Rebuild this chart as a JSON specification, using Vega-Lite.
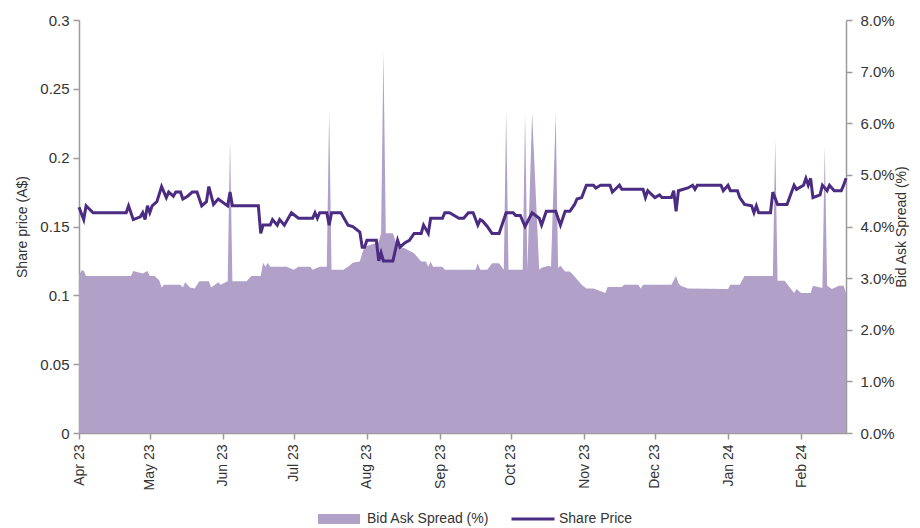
{
  "$schema": "https://vega.github.io/schema/vega-lite/v6.json",
  "width": 767,
  "height": 413,
  "autosize": {"type": "none"},
  "padding": {"left": 79, "top": 20, "right": 74, "bottom": 95},
  "config": {
    "view": {"stroke": null},
    "font": "Liberation Sans",
    "axis": {
      "grid": false,
      "domainColor": "#9b9b9b",
      "domainWidth": 1.5,
      "tickColor": "#9b9b9b",
      "tickWidth": 1.5,
      "tickSize": 6,
      "labelColor": "#333333",
      "titleColor": "#333333",
      "labelFont": "Liberation Sans",
      "titleFont": "Liberation Sans",
      "labelFontSize": 15,
      "titleFontSize": 14,
      "titleFontWeight": "normal"
    },
    "legend": {
      "labelFont": "Liberation Sans",
      "labelFontSize": 14,
      "labelColor": "#333333",
      "padding": 0
    }
  },
  "datasets": {
    "spread": [
      {"date": "2023-04-01", "spread": 3.05},
      {"date": "2023-04-02", "spread": 3.15},
      {"date": "2023-04-03", "spread": 3.15},
      {"date": "2023-04-04", "spread": 3.04},
      {"date": "2023-04-23", "spread": 3.04},
      {"date": "2023-04-24", "spread": 3.14},
      {"date": "2023-04-28", "spread": 3.09},
      {"date": "2023-04-30", "spread": 3.14},
      {"date": "2023-05-01", "spread": 3.04},
      {"date": "2023-05-03", "spread": 3.04},
      {"date": "2023-05-05", "spread": 2.96},
      {"date": "2023-05-06", "spread": 2.82},
      {"date": "2023-05-07", "spread": 2.87},
      {"date": "2023-05-14", "spread": 2.87},
      {"date": "2023-05-15", "spread": 2.82},
      {"date": "2023-05-16", "spread": 2.92},
      {"date": "2023-05-18", "spread": 2.82},
      {"date": "2023-05-20", "spread": 2.80},
      {"date": "2023-05-22", "spread": 2.94},
      {"date": "2023-05-26", "spread": 2.94},
      {"date": "2023-05-27", "spread": 2.82},
      {"date": "2023-05-30", "spread": 2.92},
      {"date": "2023-05-31", "spread": 2.87},
      {"date": "2023-06-03", "spread": 2.94},
      {"date": "2023-06-04", "spread": 5.68},
      {"date": "2023-06-05", "spread": 2.94},
      {"date": "2023-06-11", "spread": 2.94},
      {"date": "2023-06-13", "spread": 3.04},
      {"date": "2023-06-17", "spread": 3.04},
      {"date": "2023-06-18", "spread": 3.30},
      {"date": "2023-06-19", "spread": 3.22},
      {"date": "2023-06-20", "spread": 3.30},
      {"date": "2023-06-21", "spread": 3.22},
      {"date": "2023-06-28", "spread": 3.22},
      {"date": "2023-07-01", "spread": 3.16},
      {"date": "2023-07-03", "spread": 3.22},
      {"date": "2023-07-08", "spread": 3.22},
      {"date": "2023-07-09", "spread": 3.16},
      {"date": "2023-07-12", "spread": 3.22},
      {"date": "2023-07-15", "spread": 3.22},
      {"date": "2023-07-16", "spread": 6.24},
      {"date": "2023-07-17", "spread": 3.16},
      {"date": "2023-07-22", "spread": 3.16},
      {"date": "2023-07-24", "spread": 3.22},
      {"date": "2023-07-26", "spread": 3.30},
      {"date": "2023-07-29", "spread": 3.32},
      {"date": "2023-07-30", "spread": 3.48},
      {"date": "2023-07-31", "spread": 3.61},
      {"date": "2023-08-03", "spread": 3.65},
      {"date": "2023-08-06", "spread": 3.70},
      {"date": "2023-08-07", "spread": 3.87},
      {"date": "2023-08-08", "spread": 7.39},
      {"date": "2023-08-09", "spread": 3.87},
      {"date": "2023-08-12", "spread": 3.87},
      {"date": "2023-08-14", "spread": 3.61},
      {"date": "2023-08-17", "spread": 3.58},
      {"date": "2023-08-21", "spread": 3.48},
      {"date": "2023-08-24", "spread": 3.32},
      {"date": "2023-08-26", "spread": 3.32},
      {"date": "2023-08-27", "spread": 3.22},
      {"date": "2023-08-28", "spread": 3.32},
      {"date": "2023-08-29", "spread": 3.22},
      {"date": "2023-09-02", "spread": 3.22},
      {"date": "2023-09-03", "spread": 3.16},
      {"date": "2023-09-16", "spread": 3.16},
      {"date": "2023-09-17", "spread": 3.29},
      {"date": "2023-09-18", "spread": 3.16},
      {"date": "2023-09-21", "spread": 3.16},
      {"date": "2023-09-23", "spread": 3.29},
      {"date": "2023-09-26", "spread": 3.29},
      {"date": "2023-09-28", "spread": 3.16},
      {"date": "2023-09-29", "spread": 6.24},
      {"date": "2023-09-30", "spread": 3.16},
      {"date": "2023-10-06", "spread": 3.16},
      {"date": "2023-10-07", "spread": 6.20},
      {"date": "2023-10-08", "spread": 3.16},
      {"date": "2023-10-10", "spread": 6.20},
      {"date": "2023-10-13", "spread": 3.16},
      {"date": "2023-10-14", "spread": 3.20},
      {"date": "2023-10-17", "spread": 3.24},
      {"date": "2023-10-18", "spread": 3.22},
      {"date": "2023-10-20", "spread": 6.20},
      {"date": "2023-10-21", "spread": 3.20},
      {"date": "2023-10-22", "spread": 3.24},
      {"date": "2023-10-24", "spread": 3.13},
      {"date": "2023-10-26", "spread": 3.13},
      {"date": "2023-10-28", "spread": 3.03},
      {"date": "2023-10-31", "spread": 2.87},
      {"date": "2023-11-02", "spread": 2.80},
      {"date": "2023-11-05", "spread": 2.80},
      {"date": "2023-11-10", "spread": 2.71},
      {"date": "2023-11-11", "spread": 2.83},
      {"date": "2023-11-17", "spread": 2.83},
      {"date": "2023-11-18", "spread": 2.87},
      {"date": "2023-11-24", "spread": 2.87},
      {"date": "2023-11-25", "spread": 2.80},
      {"date": "2023-11-26", "spread": 2.87},
      {"date": "2023-12-08", "spread": 2.87},
      {"date": "2023-12-10", "spread": 3.04},
      {"date": "2023-12-11", "spread": 2.90},
      {"date": "2023-12-12", "spread": 2.85},
      {"date": "2023-12-15", "spread": 2.80},
      {"date": "2024-01-01", "spread": 2.79},
      {"date": "2024-01-02", "spread": 2.87},
      {"date": "2024-01-06", "spread": 2.87},
      {"date": "2024-01-08", "spread": 3.04},
      {"date": "2024-01-20", "spread": 3.04},
      {"date": "2024-01-21", "spread": 5.68},
      {"date": "2024-01-22", "spread": 2.95},
      {"date": "2024-01-25", "spread": 2.95},
      {"date": "2024-01-29", "spread": 2.71},
      {"date": "2024-01-30", "spread": 2.79},
      {"date": "2024-02-01", "spread": 2.71},
      {"date": "2024-02-05", "spread": 2.71},
      {"date": "2024-02-06", "spread": 2.85},
      {"date": "2024-02-10", "spread": 2.81},
      {"date": "2024-02-11", "spread": 5.55},
      {"date": "2024-02-12", "spread": 2.85},
      {"date": "2024-02-14", "spread": 2.79},
      {"date": "2024-02-17", "spread": 2.85},
      {"date": "2024-02-19", "spread": 2.85},
      {"date": "2024-02-20", "spread": 2.71}
    ],
    "price": [
      {"date": "2023-04-01", "price": 0.164},
      {"date": "2023-04-03", "price": 0.155},
      {"date": "2023-04-04", "price": 0.165},
      {"date": "2023-04-07", "price": 0.160},
      {"date": "2023-04-21", "price": 0.160},
      {"date": "2023-04-22", "price": 0.165},
      {"date": "2023-04-24", "price": 0.155},
      {"date": "2023-04-27", "price": 0.157},
      {"date": "2023-04-28", "price": 0.160},
      {"date": "2023-04-29", "price": 0.155},
      {"date": "2023-04-30", "price": 0.165},
      {"date": "2023-05-01", "price": 0.160},
      {"date": "2023-05-02", "price": 0.165},
      {"date": "2023-05-04", "price": 0.168},
      {"date": "2023-05-06", "price": 0.179},
      {"date": "2023-05-08", "price": 0.171},
      {"date": "2023-05-09", "price": 0.175},
      {"date": "2023-05-11", "price": 0.172},
      {"date": "2023-05-12", "price": 0.175},
      {"date": "2023-05-14", "price": 0.175},
      {"date": "2023-05-15", "price": 0.170},
      {"date": "2023-05-17", "price": 0.172},
      {"date": "2023-05-19", "price": 0.175},
      {"date": "2023-05-21", "price": 0.175},
      {"date": "2023-05-23", "price": 0.165},
      {"date": "2023-05-25", "price": 0.168},
      {"date": "2023-05-26", "price": 0.179},
      {"date": "2023-05-28", "price": 0.166},
      {"date": "2023-05-30", "price": 0.170},
      {"date": "2023-06-03", "price": 0.165},
      {"date": "2023-06-04", "price": 0.175},
      {"date": "2023-06-05", "price": 0.165},
      {"date": "2023-06-16", "price": 0.165},
      {"date": "2023-06-17", "price": 0.145},
      {"date": "2023-06-18", "price": 0.151},
      {"date": "2023-06-21", "price": 0.151},
      {"date": "2023-06-22", "price": 0.155},
      {"date": "2023-06-24", "price": 0.151},
      {"date": "2023-06-25", "price": 0.155},
      {"date": "2023-06-27", "price": 0.151},
      {"date": "2023-06-30", "price": 0.160},
      {"date": "2023-07-03", "price": 0.156},
      {"date": "2023-07-09", "price": 0.156},
      {"date": "2023-07-10", "price": 0.160},
      {"date": "2023-07-11", "price": 0.156},
      {"date": "2023-07-12", "price": 0.160},
      {"date": "2023-07-15", "price": 0.160},
      {"date": "2023-07-16", "price": 0.151},
      {"date": "2023-07-17", "price": 0.160},
      {"date": "2023-07-21", "price": 0.160},
      {"date": "2023-07-24", "price": 0.151},
      {"date": "2023-07-26", "price": 0.150},
      {"date": "2023-07-29", "price": 0.146},
      {"date": "2023-07-30", "price": 0.135},
      {"date": "2023-07-31", "price": 0.135},
      {"date": "2023-08-01", "price": 0.140},
      {"date": "2023-08-05", "price": 0.140},
      {"date": "2023-08-06", "price": 0.125},
      {"date": "2023-08-07", "price": 0.131},
      {"date": "2023-08-08", "price": 0.125},
      {"date": "2023-08-12", "price": 0.125},
      {"date": "2023-08-14", "price": 0.140},
      {"date": "2023-08-15", "price": 0.135},
      {"date": "2023-08-17", "price": 0.138},
      {"date": "2023-08-19", "price": 0.140},
      {"date": "2023-08-21", "price": 0.145},
      {"date": "2023-08-24", "price": 0.145},
      {"date": "2023-08-25", "price": 0.151},
      {"date": "2023-08-27", "price": 0.145},
      {"date": "2023-08-28", "price": 0.156},
      {"date": "2023-09-02", "price": 0.156},
      {"date": "2023-09-03", "price": 0.160},
      {"date": "2023-09-05", "price": 0.160},
      {"date": "2023-09-09", "price": 0.156},
      {"date": "2023-09-11", "price": 0.156},
      {"date": "2023-09-13", "price": 0.160},
      {"date": "2023-09-15", "price": 0.160},
      {"date": "2023-09-17", "price": 0.151},
      {"date": "2023-09-18", "price": 0.155},
      {"date": "2023-09-19", "price": 0.154},
      {"date": "2023-09-21", "price": 0.150},
      {"date": "2023-09-23", "price": 0.145},
      {"date": "2023-09-26", "price": 0.145},
      {"date": "2023-09-29", "price": 0.160},
      {"date": "2023-10-02", "price": 0.160},
      {"date": "2023-10-03", "price": 0.158},
      {"date": "2023-10-05", "price": 0.158},
      {"date": "2023-10-07", "price": 0.150},
      {"date": "2023-10-10", "price": 0.160},
      {"date": "2023-10-13", "price": 0.156},
      {"date": "2023-10-14", "price": 0.151},
      {"date": "2023-10-15", "price": 0.156},
      {"date": "2023-10-16", "price": 0.161},
      {"date": "2023-10-20", "price": 0.161},
      {"date": "2023-10-22", "price": 0.151},
      {"date": "2023-10-24", "price": 0.161},
      {"date": "2023-10-26", "price": 0.161},
      {"date": "2023-10-28", "price": 0.166},
      {"date": "2023-10-29", "price": 0.170},
      {"date": "2023-10-31", "price": 0.171},
      {"date": "2023-11-02", "price": 0.180},
      {"date": "2023-11-05", "price": 0.180},
      {"date": "2023-11-06", "price": 0.178},
      {"date": "2023-11-08", "price": 0.180},
      {"date": "2023-11-12", "price": 0.180},
      {"date": "2023-11-13", "price": 0.175},
      {"date": "2023-11-16", "price": 0.180},
      {"date": "2023-11-17", "price": 0.177},
      {"date": "2023-11-26", "price": 0.177},
      {"date": "2023-11-27", "price": 0.171},
      {"date": "2023-11-28", "price": 0.176},
      {"date": "2023-12-01", "price": 0.171},
      {"date": "2023-12-03", "price": 0.173},
      {"date": "2023-12-04", "price": 0.171},
      {"date": "2023-12-08", "price": 0.171},
      {"date": "2023-12-09", "price": 0.176},
      {"date": "2023-12-10", "price": 0.161},
      {"date": "2023-12-11", "price": 0.176},
      {"date": "2023-12-15", "price": 0.178},
      {"date": "2023-12-17", "price": 0.180},
      {"date": "2023-12-18", "price": 0.177},
      {"date": "2023-12-19", "price": 0.180},
      {"date": "2023-12-29", "price": 0.180},
      {"date": "2023-12-30", "price": 0.176},
      {"date": "2024-01-01", "price": 0.180},
      {"date": "2024-01-02", "price": 0.176},
      {"date": "2024-01-05", "price": 0.176},
      {"date": "2024-01-06", "price": 0.171},
      {"date": "2024-01-08", "price": 0.166},
      {"date": "2024-01-11", "price": 0.165},
      {"date": "2024-01-12", "price": 0.160},
      {"date": "2024-01-13", "price": 0.165},
      {"date": "2024-01-14", "price": 0.160},
      {"date": "2024-01-19", "price": 0.160},
      {"date": "2024-01-20", "price": 0.175},
      {"date": "2024-01-22", "price": 0.166},
      {"date": "2024-01-26", "price": 0.166},
      {"date": "2024-01-29", "price": 0.180},
      {"date": "2024-01-30", "price": 0.177},
      {"date": "2024-02-02", "price": 0.180},
      {"date": "2024-02-03", "price": 0.185},
      {"date": "2024-02-04", "price": 0.180},
      {"date": "2024-02-05", "price": 0.185},
      {"date": "2024-02-06", "price": 0.171},
      {"date": "2024-02-09", "price": 0.173},
      {"date": "2024-02-10", "price": 0.180},
      {"date": "2024-02-12", "price": 0.176},
      {"date": "2024-02-13", "price": 0.180},
      {"date": "2024-02-15", "price": 0.176},
      {"date": "2024-02-18", "price": 0.176},
      {"date": "2024-02-19", "price": 0.180},
      {"date": "2024-02-20", "price": 0.185}
    ]
  },
  "encoding": {
    "x": {
      "field": "date",
      "type": "temporal",
      "scale": {
        "type": "utc",
        "domain": [
          {"year": 2023, "month": 4, "date": 1, "utc": true},
          {"year": 2024, "month": 2, "date": 20, "utc": true}
        ]
      },
      "axis": {
        "title": null,
        "labelExpr": "utcFormat(datum.value, '%b %y')",
        "tickCount": {"interval": "month", "step": 1},
        "labelAngle": -90,
        "labelFontSize": 14,
        "labelPadding": 5
      }
    }
  },
  "layer": [
    {
      "data": {"name": "spread"},
      "mark": {"type": "area", "interpolate": "linear"},
      "encoding": {
        "y": {
          "field": "spread",
          "type": "quantitative",
          "scale": {"domain": [0, 8], "nice": false},
          "axis": {
            "orient": "right",
            "title": "Bid Ask Spread (%)",
            "titleAngle": -90,
            "values": [0, 1, 2, 3, 4, 5, 6, 7, 8],
            "labelExpr": "format(datum.value, '.1f') + '%'",
            "labelPadding": 8,
            "titlePadding": 14
          }
        },
        "fill": {
          "datum": "Bid Ask Spread (%)",
          "type": "nominal",
          "scale": {"range": ["#b1a1c8"]},
          "legend": {
            "title": null,
            "orient": "none",
            "direction": "horizontal",
            "legendX": 234,
            "legendY": 473,
            "symbolType": "stroke",
            "symbolSize": 1764,
            "symbolStrokeWidth": 10,
            "symbolStrokeColor": "#b1a1c8",
            "labelOffset": 2
          }
        }
      }
    },
    {
      "data": {"name": "price"},
      "mark": {"type": "line", "strokeWidth": 3, "interpolate": "linear"},
      "encoding": {
        "y": {
          "field": "price",
          "type": "quantitative",
          "scale": {"domain": [0, 0.3], "nice": false},
          "axis": {
            "orient": "left",
            "title": "Share price (A$)",
            "values": [0, 0.05, 0.1, 0.15, 0.2, 0.25, 0.3],
            "format": "~g",
            "labelPadding": 4,
            "titlePadding": 10
          }
        },
        "stroke": {
          "datum": "Share Price",
          "type": "nominal",
          "scale": {"range": ["#4b2c82"]},
          "legend": {
            "title": null,
            "orient": "none",
            "direction": "horizontal",
            "legendX": 431,
            "legendY": 476,
            "symbolType": "stroke",
            "symbolSize": 1849,
            "symbolStrokeWidth": 3,
            "symbolStrokeColor": "#4b2c82",
            "labelOffset": 3
          }
        }
      }
    }
  ],
  "resolve": {"scale": {"y": "independent", "fill": "independent", "stroke": "independent"}}
}
